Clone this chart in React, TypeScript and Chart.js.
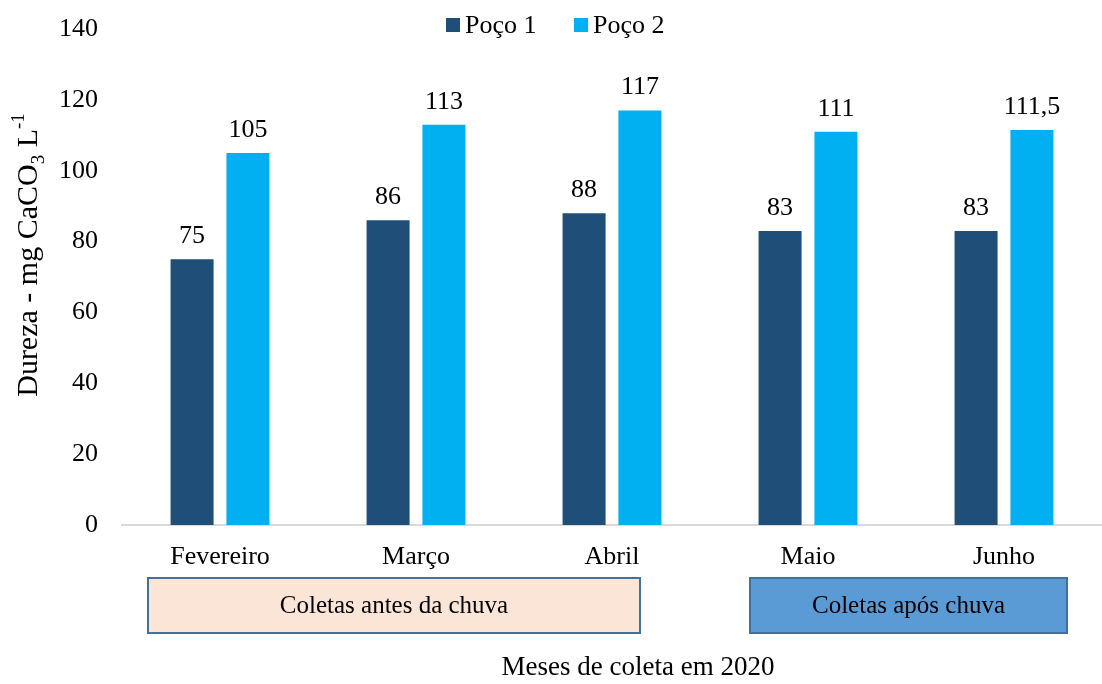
import React, { useEffect, useRef } from "react";
import { Chart, registerables } from "chart.js";

Chart.register(...registerables);

const categories = ["Fevereiro", "Março", "Abril", "Maio", "Junho"];
const poco1 = [75, 86, 88, 83, 83];
const poco2 = [105, 113, 117, 111, 111.5];
const seriesNames = ["Poço 1", "Poço 2"];
const groupLabels = ["Coletas antes da chuva", "Coletas após chuva"];
const xTitle = "Meses de coleta em 2020";

const C1 = "#1F4E79";
const C2 = "#00B0F0";
const FONT = "'Liberation Serif', 'Times New Roman', serif";
const FS = 26;

const fmt = (v: number) => String(v).replace(".", ",");

const overlay = {
  id: "overlay",
  afterDatasetsDraw(chart: any) {
    const ctx = chart.ctx as CanvasRenderingContext2D;
    ctx.save();
    ctx.fillStyle = "#000";
    ctx.font = `${FS}px ${FONT}`;
    ctx.textAlign = "center";
    ctx.textBaseline = "alphabetic";
    chart.data.datasets.forEach((ds: any, di: number) => {
      const meta = chart.getDatasetMeta(di);
      meta.data.forEach((bar: any, i: number) => {
        ctx.fillText(fmt(ds.data[i]), bar.x, bar.y - 16);
      });
    });

    // legend
    const legend = [
      { x: 446, color: C1, text: seriesNames[0] },
      { x: 574, color: C2, text: seriesNames[1] },
    ];
    ctx.textAlign = "left";
    ctx.textBaseline = "middle";
    legend.forEach((l) => {
      ctx.fillStyle = l.color;
      ctx.fillRect(l.x, 18, 14, 14);
      ctx.fillStyle = "#000";
      ctx.fillText(l.text, l.x + 19, 26);
    });

    // group boxes
    const boxes = [
      { x0: 148, x1: 640, fill: "#FBE5D6", text: groupLabels[0] },
      { x0: 750, x1: 1067, fill: "#5B9BD5", text: groupLabels[1] },
    ];
    ctx.font = `25px ${FONT}`;
    boxes.forEach((b) => {
      ctx.fillStyle = b.fill;
      ctx.fillRect(b.x0, 578, b.x1 - b.x0, 55);
      ctx.strokeStyle = "#41719C";
      ctx.lineWidth = 2;
      ctx.strokeRect(b.x0, 578, b.x1 - b.x0, 55);
      ctx.fillStyle = "#000";
      ctx.textAlign = "center";
      ctx.textBaseline = "middle";
      ctx.fillText(b.text, (b.x0 + b.x1) / 2, 606);
    });

    // x title
    ctx.font = `27px ${FONT}`;
    ctx.fillText(xTitle, 638, 668);

    // y title with sub/superscript
    const parts = [
      { t: "Dureza - mg CaCO", size: 30, dy: 0 },
      { t: "3", size: 19, dy: 7 },
      { t: " L", size: 30, dy: 0 },
      { t: "-1", size: 19, dy: -13 },
    ];
    let total = 0;
    parts.forEach((p) => {
      ctx.font = `${p.size}px ${FONT}`;
      total += ctx.measureText(p.t).width;
    });
    ctx.translate(37, 255);
    ctx.rotate(-Math.PI / 2);
    ctx.textAlign = "left";
    ctx.textBaseline = "alphabetic";
    let x = -total / 2;
    parts.forEach((p) => {
      ctx.font = `${p.size}px ${FONT}`;
      ctx.fillText(p.t, x, p.dy);
      x += ctx.measureText(p.t).width;
    });
    ctx.restore();
  },
};

export default function App() {
  const ref = useRef<HTMLCanvasElement>(null);
  useEffect(() => {
    document.body.style.margin = "0";
    const chart = new Chart(ref.current!, {
      type: "bar",
      data: {
        labels: categories,
        datasets: [
          { label: seriesNames[0], data: poco1, backgroundColor: C1 },
          { label: seriesNames[1], data: poco2, backgroundColor: C2 },
        ],
      },
      options: {
        responsive: false,
        animation: false,
        devicePixelRatio: 1,
        layout: { padding: { top: 29, left: 0, right: 0, bottom: 0 } },
        datasets: {
          bar: { categoryPercentage: 0.57, barPercentage: 0.77 },
        },
        plugins: {
          legend: { display: false },
          tooltip: { enabled: false },
        },
        scales: {
          x: {
            grid: { display: false, drawTicks: false },
            border: { display: true, color: "#D9D9D9", width: 2 },
            ticks: {
              color: "#000",
              font: { family: FONT, size: FS },
              padding: 17,
              maxRotation: 0,
            },
            afterFit: (s: any) => {
              s.height = 684 - 525;
              s.paddingLeft = 0;
              s.paddingRight = 0;
            },
          },
          y: {
            min: 0,
            max: 140,
            grid: { display: false, drawTicks: false },
            border: { display: false },
            ticks: {
              stepSize: 20,
              color: "#000",
              font: { family: FONT, size: FS },
              padding: 24,
            },
            afterFit: (s: any) => {
              s.width = 122;
              s.paddingTop = 0;
              s.paddingBottom = 0;
            },
          },
        },
      },
      plugins: [overlay],
    });
    return () => chart.destroy();
  }, []);
  return <canvas ref={ref} width={1102} height={684} style={{ display: "block" }} />;
}
